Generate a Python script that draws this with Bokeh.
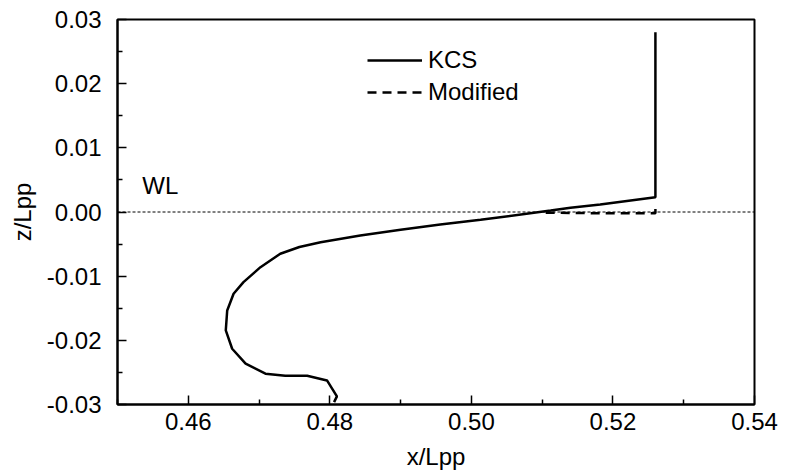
from bokeh.plotting import figure
from bokeh.models import FixedTicker, PrintfTickFormatter, Legend, LegendItem, Span, Label
from bokeh.embed import file_html
from bokeh.resources import INLINE

# Waterline profile of the KCS hull section and its modified variant
kcs_x = [0.5260, 0.5260, 0.5182, 0.5140, 0.5112, 0.5013, 0.4956, 0.4900, 0.4843,
         0.4787, 0.4757, 0.4730, 0.4702, 0.4678, 0.4664, 0.4655, 0.4653, 0.4662, 0.4681,
         0.4709, 0.4737, 0.4768, 0.4796, 0.4810, 0.4806]
kcs_z = [0.0280, 0.0023, 0.00117, 0.00065, 0.00023, -0.00121, -0.00195, -0.00277, -0.00366,
         -0.00470, -0.00545, -0.00651, -0.00860, -0.01093, -0.01274, -0.01534, -0.01846, -0.02131,
         -0.02364, -0.02520, -0.02551, -0.02551, -0.02625, -0.02874, -0.02963]

mod_x = [0.5105, 0.5180, 0.5260, 0.5260]
mod_z = [-0.0001, -0.0002, -0.0002, 0.0013]

x_major = [0.46, 0.48, 0.50, 0.52, 0.54]
x_minor = [0.45, 0.47, 0.49, 0.51, 0.53]
z_major = [-0.03, -0.02, -0.01, 0.00, 0.01, 0.02, 0.03]
z_minor = [-0.025, -0.015, -0.005, 0.005, 0.015, 0.025]

FONT = "Liberation Sans"
SIZE = "24px"

p = figure(width=786, height=472, output_backend="svg", toolbar_location=None,
           x_range=(0.45, 0.54), y_range=(-0.03, 0.03),
           min_border_left=117, min_border_right=32, min_border_top=19, min_border_bottom=68)
p.xgrid.visible = False
p.ygrid.visible = False
p.outline_line_color = "black"
p.outline_line_width = 2
p.background_fill_color = "white"
p.border_fill_color = "white"

for ax, major, minor, label in ((p.xaxis[0], x_major, x_minor, "x/Lpp"),
                                (p.yaxis[0], z_major, z_minor, "z/Lpp")):
    ax.ticker = FixedTicker(ticks=major, minor_ticks=minor)
    ax.formatter = PrintfTickFormatter(format="%.2f")
    ax.axis_label = label
    ax.axis_label_text_font = FONT
    ax.axis_label_text_font_size = SIZE
    ax.axis_label_text_font_style = "normal"
    ax.axis_label_text_color = "black"
    ax.major_label_text_font = FONT
    ax.major_label_text_font_size = SIZE
    ax.major_label_text_color = "black"
    ax.axis_line_width = 2
    ax.axis_line_color = "black"
    ax.major_tick_in = 9
    ax.major_tick_out = 0
    ax.minor_tick_in = 5
    ax.minor_tick_out = 0
    ax.major_tick_line_width = 1.5
    ax.minor_tick_line_width = 1.5
    ax.major_tick_line_color = "black"
    ax.minor_tick_line_color = "black"

p.xaxis.major_label_standoff = 8
p.xaxis.axis_label_standoff = 10
p.yaxis.major_label_standoff = 16
p.yaxis.axis_label_standoff = 8

# Waterline
p.add_layout(Span(location=0.0, dimension="width", line_color="black",
                  line_width=1, line_dash="3 2"))
p.add_layout(Label(x=0.4535, y=0.0021, text="WL", text_font=FONT,
                   text_font_size=SIZE, text_color="black", text_baseline="bottom"))

r_mod = p.line(mod_x, mod_z, line_color="black", line_width=2.5, line_dash="9 6")
r_kcs = p.line(kcs_x, kcs_z, line_color="black", line_width=2.5)

legend = Legend(items=[LegendItem(label="KCS", renderers=[r_kcs]),
                       LegendItem(label="Modified", renderers=[r_mod])],
                location=(250, 297))
legend.border_line_color = None
legend.background_fill_alpha = 0
legend.padding = 0
legend.margin = 0
legend.spacing = 2
legend.glyph_width = 55
legend.glyph_height = 30
legend.label_height = 30
legend.label_standoff = 6
legend.label_text_font = FONT
legend.label_text_font_size = SIZE
legend.label_text_color = "black"
p.add_layout(legend)

open("out.html", "w").write(file_html(p, INLINE))
